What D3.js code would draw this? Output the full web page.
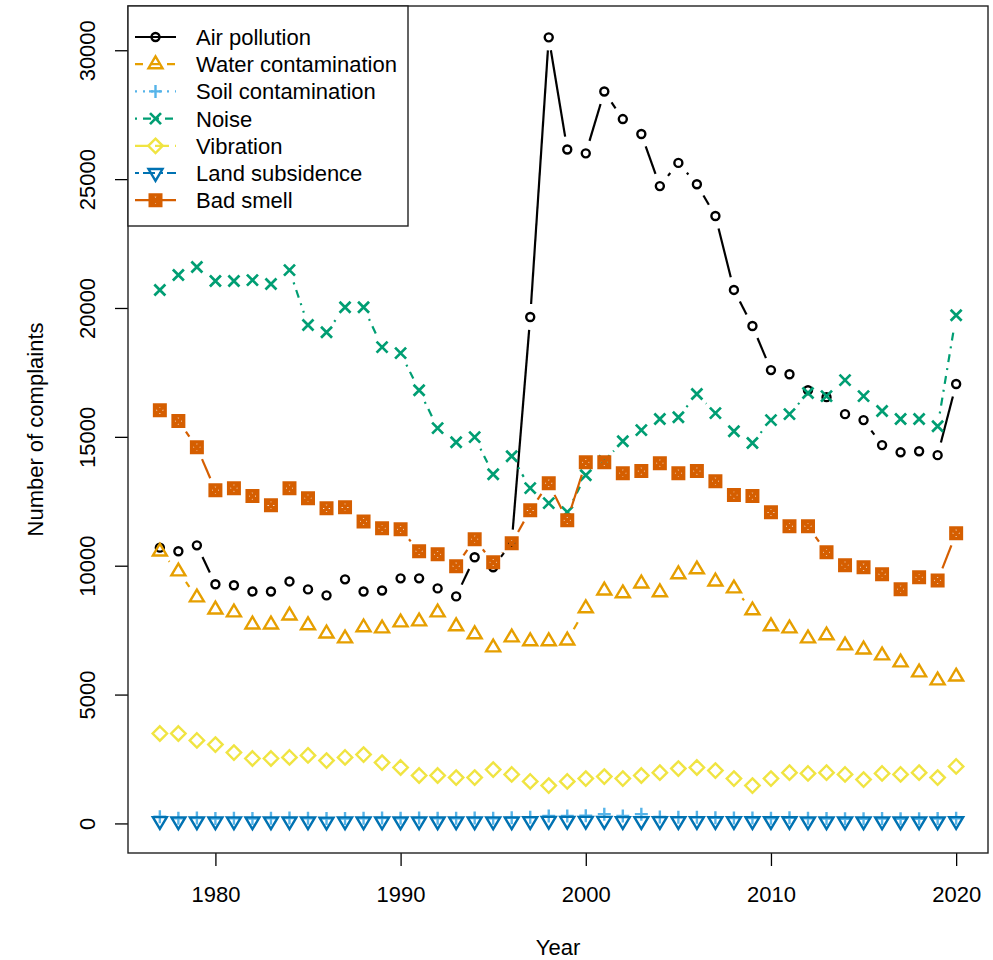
<!DOCTYPE html>
<html>
<head>
<meta charset="utf-8">
<script src="https://cdn.jsdelivr.net/npm/d3@7"></script>
<style>
  body { margin: 0; background: #fff; }
  text { font-family: "Liberation Sans", Arial, sans-serif; fill: #000; }
</style>
</head>
<body>
<div id="chart"></div>
<script>
// complaints per year
var years = [1977,1978,1979,1980,1981,1982,1983,1984,1985,1986,
             1987,1988,1989,1990,1991,1992,1993,1994,1995,1996,
             1997,1998,1999,2000,2001,2002,2003,2004,2005,2006,
             2007,2008,2009,2010,2011,2012,2013,2014,2015,2016,
             2017,2018,2019,2020];

var airPollution = [10700,10560,10790,9280,9240,9000,9000,9390,9080,8850,
                    9470,9000,9040,9510,9510,9120,8810,10330,9940,10900,
                    19650,30500,26150,26000,28400,27330,26750,24730,25630,24800,
                    23570,20700,19300,17590,17430,16810,16540,15880,15650,14680,
                    14400,14440,14290,17050];
var waterContamination = [10550,9780,8770,8300,8190,7720,7720,8070,7690,7370,
                          7180,7610,7570,7800,7840,8190,7650,7340,6830,7220,
                          7070,7070,7100,8350,9040,8930,9310,8970,9670,9860,
                          9390,9120,8270,7650,7570,7180,7300,6910,6750,6520,
                          6250,5860,5550,5700];
var soilContamination = [260,200,210,190,200,190,200,210,200,190,
                         190,200,210,200,210,200,200,210,200,220,
                         240,290,290,300,360,290,360,250,240,240,
                         220,210,210,200,220,200,190,180,180,190,
                         180,180,190,200];
var noise = [20700,21280,21590,21050,21050,21080,20930,21470,19340,19060,
             20030,20030,18480,18250,16810,15340,14790,14990,13550,14250,
             13010,12430,12080,13510,14060,14830,15260,15690,15760,16660,
             15920,15220,14760,15650,15880,16700,16580,17200,16580,16000,
             15690,15690,15410,19720];
var vibration = [3490,3490,3220,3060,2750,2520,2520,2560,2640,2440,
                 2560,2670,2360,2170,1860,1860,1780,1780,2090,1900,
                 1630,1470,1630,1740,1820,1740,1860,1970,2130,2170,
                 2050,1740,1470,1740,1970,1940,1970,1900,1700,1940,
                 1900,1970,1780,2210];
var landSubsidence = [90,80,80,80,80,80,80,80,80,70,
                      80,80,80,80,80,80,80,80,80,80,
                      90,100,100,100,100,90,90,90,90,90,
                      90,90,90,90,90,80,80,80,80,80,
                      80,80,80,90];
var badSmell = [16030,15610,14600,12930,13010,12700,12350,13010,12620,12230,
                12270,11720,11450,11410,10560,10440,9980,11030,10130,10870,
                12150,13200,11760,14010,14010,13590,13670,13980,13590,13670,
                13280,12740,12700,12070,11530,11530,10520,10020,9940,9670,
                9090,9550,9430,11260];

var seriesNames = ["Air pollution","Water contamination","Soil contamination","Noise",
                   "Vibration","Land subsidence","Bad smell"];
var xTicks = [1980,1990,2000,2010,2020];
var yTicks = [0,5000,10000,15000,20000,25000,30000];

(function() {
  var series = [
    {name: seriesNames[0], values: airPollution,       color: "#000000", dash: null,        shape: "circle"},
    {name: seriesNames[1], values: waterContamination, color: "#E69F00", dash: "8,8",       shape: "triangle"},
    {name: seriesNames[2], values: soilContamination,  color: "#56B4E9", dash: "2,6",       shape: "plus"},
    {name: seriesNames[3], values: noise,              color: "#009E73", dash: "2,6,8,6",   shape: "cross"},
    {name: seriesNames[4], values: vibration,          color: "#F0E442", dash: "14,6",      shape: "diamond"},
    {name: seriesNames[5], values: landSubsidence,     color: "#0072B2", dash: "4,4,12,4",  shape: "triangleDown"},
    {name: seriesNames[6], values: badSmell,           color: "#D55E00", dash: null,        shape: "squareX"}
  ];

  var width = 993, height = 960;
  var plotLeft = 128, plotRight = 988, plotTop = 6, plotBottom = 853;

  var svg = d3.select("#chart").append("svg")
    .attr("width", width)
    .attr("height", height);

  // R style 4% padding on both axes
  var xExt = d3.extent(years);
  var xPad = (xExt[1] - xExt[0]) * 0.04;
  var allVals = [].concat.apply([], series.map(function(s) { return s.values; }));
  var yExt = d3.extent(allVals);
  var yPad = (yExt[1] - yExt[0]) * 0.04;

  var x = d3.scaleLinear().domain([xExt[0] - xPad, xExt[1] + xPad]).range([plotLeft, plotRight]);
  var y = d3.scaleLinear().domain([yExt[0] - yPad, yExt[1] + yPad]).range([plotBottom, plotTop]);

  function shapePath(shape) {
    switch (shape) {
      case "triangle": return "M0,-7.8L7,4L-7,4Z";
      case "triangleDown": return "M0,7.8L7,-4L-7,-4Z";
      case "plus": return "M-6.5,0H6.5M0,-6.5V6.5";
      case "cross": return "M-5.5,-5.5L5.5,5.5M-5.5,5.5L5.5,-5.5";
      case "diamond": return "M0,-7.2L7.2,0L0,7.2L-7.2,0Z";
      case "squareX": return "M-5.2,-5.2H5.2V5.2H-5.2ZM-5.2,-5.2L5.2,5.2M-5.2,5.2L5.2,-5.2";
    }
    return null;
  }

  function drawPoint(g, shape, color, px, py) {
    if (shape === "circle") {
      g.append("circle").attr("cx", px).attr("cy", py).attr("r", 4)
        .attr("fill", "none").attr("stroke", color).attr("stroke-width", 2.4);
    } else {
      g.append("path").attr("d", shapePath(shape))
        .attr("transform", "translate(" + px + "," + py + ")")
        .attr("fill", "none").attr("stroke", color)
        .attr("stroke-width", shape === "squareX" ? 3.6 : shape === "cross" ? 2.7 : 2.4);
    }
  }

  var gap = 13; // type="b" gap around points

  series.forEach(function(s) {
    var g = svg.append("g");
    for (var i = 0; i < years.length - 1; i++) {
      var x0 = x(years[i]), y0 = y(s.values[i]);
      var x1 = x(years[i + 1]), y1 = y(s.values[i + 1]);
      var dx = x1 - x0, dy = y1 - y0;
      var len = Math.sqrt(dx * dx + dy * dy);
      if (len <= 2 * gap) continue;
      var ux = dx / len, uy = dy / len;
      g.append("line")
        .attr("x1", x0 + ux * gap).attr("y1", y0 + uy * gap)
        .attr("x2", x1 - ux * gap).attr("y2", y1 - uy * gap)
        .attr("stroke", s.color)
        .attr("stroke-width", 2.2)
        .attr("stroke-dasharray", s.dash);
    }
    s.values.forEach(function(v, i) {
      drawPoint(g, s.shape, s.color, x(years[i]), y(v));
    });
  });

  // axes
  var xAxis = svg.append("g")
    .attr("transform", "translate(0," + plotBottom + ")")
    .call(d3.axisBottom(x).tickValues(xTicks).tickFormat(d3.format("d"))
      .tickSize(13).tickPadding(20).tickSizeOuter(0));
  xAxis.select(".domain").remove();
  xAxis.selectAll("line").attr("stroke", "#000").attr("stroke-width", 1.3);
  xAxis.selectAll("text").attr("font-size", 22).attr("fill", "#000")
    .style("font-family", "Liberation Sans, Arial, sans-serif");

  var yAxis = svg.append("g")
    .attr("transform", "translate(" + plotLeft + ",0)")
    .call(d3.axisLeft(y).tickValues(yTicks).tickFormat(d3.format("d"))
      .tickSize(13).tickSizeOuter(0));
  yAxis.select(".domain").remove();
  yAxis.selectAll("line").attr("stroke", "#000").attr("stroke-width", 1.3);
  yAxis.selectAll("text")
    .attr("x", null).attr("dy", null)
    .attr("text-anchor", "middle")
    .attr("transform", "translate(-33,0) rotate(-90)")
    .attr("font-size", 22).attr("fill", "#000")
    .style("font-family", "Liberation Sans, Arial, sans-serif");

  // plot box
  svg.append("rect")
    .attr("x", plotLeft).attr("y", plotTop)
    .attr("width", plotRight - plotLeft).attr("height", plotBottom - plotTop)
    .attr("fill", "none").attr("stroke", "#222").attr("stroke-width", 1.4);

  svg.append("text")
    .attr("x", (plotLeft + plotRight) / 2).attr("y", 955)
    .attr("text-anchor", "middle").attr("font-size", 22)
    .text("Year");

  svg.append("text")
    .attr("transform", "translate(43," + (plotTop + plotBottom) / 2 + ") rotate(-90)")
    .attr("text-anchor", "middle").attr("font-size", 22)
    .text("Number of complaints");

  // legend
  var legend = svg.append("g");
  legend.append("rect")
    .attr("x", plotLeft).attr("y", plotTop)
    .attr("width", 280).attr("height", 220)
    .attr("fill", "#fff").attr("stroke", "#222").attr("stroke-width", 1.4);

  series.forEach(function(s, i) {
    var ly = 37 + i * 27.2;
    legend.append("line")
      .attr("x1", 135).attr("x2", 176).attr("y1", ly).attr("y2", ly)
      .attr("stroke", s.color).attr("stroke-width", 2.2)
      .attr("stroke-dasharray", s.dash);
    drawPoint(legend, s.shape, s.color, 155.5, ly);
    legend.append("text")
      .attr("x", 196).attr("y", ly + 8)
      .attr("font-size", 22)
      .text(s.name);
  });
})();
</script>
</body>
</html>
